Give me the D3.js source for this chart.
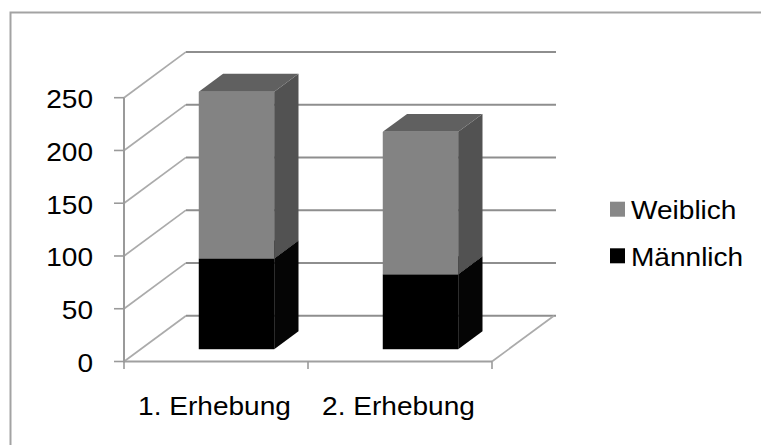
<!DOCTYPE html>
<html>
<head>
<meta charset="utf-8">
<script src="https://cdn.jsdelivr.net/npm/d3@7"></script>
<style>
  html, body { margin: 0; padding: 0; background: #fff; }
  svg { display: block; }
  text { font-family: "Liberation Sans", Arial, sans-serif; fill: #000; }
</style>
</head>
<body>
<svg id="chart" width="761" height="445"></svg>
<script>
// Survey participants by sex, two survey rounds
const categories = ["1. Erhebung", "2. Erhebung"];
const maennlich = [86, 71];
const weiblich = [158, 135];
const yTicks = [0, 50, 100, 150, 200, 250];
const seriesNames = ["Weiblich", "Männlich"];

const svg = d3.select("#chart");

// Front plane of the 3D plot box
const plotLeft = 124, plotRight = 492;
const y = d3.scaleLinear().domain([0, 250]).range([361.5, 97.7]);
const x = d3.scaleBand().domain(categories).range([plotLeft, plotRight]);

// Oblique depth of the box (full depth) and of the bars inside it
const depthX = 62, depthY = -45.8;
const barFront = 0.268, barBack = 0.66;
const barW = 0.41; // fraction of the band
const barOffset = 0.316;

const fontSize = 25.5, stretch = 1.1;
function label(g, txt, px, py, anchor) {
  return g.append("text")
    .attr("transform", `translate(${px},${py}) scale(${stretch},1)`)
    .attr("text-anchor", anchor)
    .style("font-size", fontSize + "px")
    .text(txt);
}

// Outer chart frame
svg.append("rect")
  .attr("x", 10.5).attr("y", 12.5)
  .attr("width", 800).attr("height", 500)
  .attr("fill", "none").attr("stroke", "#a3a3a3").attr("stroke-width", 2);

const walls = svg.append("g");

// Side-wall diagonals and back-wall gridlines
yTicks.forEach(v => {
  const fy = y(v);
  walls.append("line")
    .attr("x1", plotLeft).attr("y1", fy)
    .attr("x2", plotLeft + depthX).attr("y2", fy + depthY)
    .attr("stroke", "#ababab").attr("stroke-width", 1.7);
  walls.append("line")
    .attr("x1", plotLeft + depthX).attr("y1", fy + depthY)
    .attr("x2", plotRight + depthX + 2).attr("y2", fy + depthY)
    .attr("stroke", "#8e8e8e").attr("stroke-width", 2);
});

// Floor front edge and right diagonal
walls.append("line")
  .attr("x1", plotLeft).attr("y1", y(0))
  .attr("x2", plotRight).attr("y2", y(0))
  .attr("stroke", "#a0a0a0").attr("stroke-width", 2);
walls.append("line")
  .attr("x1", plotRight).attr("y1", y(0))
  .attr("x2", plotRight + depthX).attr("y2", y(0) + depthY)
  .attr("stroke", "#ababab").attr("stroke-width", 1.7);

// Value axis
walls.append("line")
  .attr("x1", plotLeft).attr("y1", y(250))
  .attr("x2", plotLeft).attr("y2", y(0) + 1)
  .attr("stroke", "#9a9a9a").attr("stroke-width", 2);
yTicks.forEach(v => {
  walls.append("line")
    .attr("x1", plotLeft - 10).attr("y1", y(v))
    .attr("x2", plotLeft).attr("y2", y(v))
    .attr("stroke", "#9a9a9a").attr("stroke-width", 1.6);
  label(walls, String(v), 93, y(v) + 10.5, "end");
});

// Category axis ticks and labels
[plotLeft, plotLeft + x.bandwidth(), plotRight].forEach(tx => {
  walls.append("line")
    .attr("x1", tx).attr("y1", y(0))
    .attr("x2", tx).attr("y2", y(0) + 7.5)
    .attr("stroke", "#9a9a9a").attr("stroke-width", 1.6);
});
categories.forEach(c => {
  label(walls, c, x(c) + x.bandwidth() / 2 - 1.5, 414.5, "middle");
});

// Stacked 3D columns
const stackData = categories.map((c, i) => ({ cat: c, Männlich: maennlich[i], Weiblich: weiblich[i] }));
const stack = d3.stack().keys(["Männlich", "Weiblich"])(stackData);
const shades = {
  "Männlich": { front: "#000000", side: "#050505", top: "#222222" },
  "Weiblich": { front: "#838383", side: "#525252", top: "#606060" }
};

const bars = svg.append("g");
const fdx = depthX * barFront, fdy = depthY * barFront;
const bdx = depthX * (barBack - barFront), bdy = depthY * (barBack - barFront);

stack.forEach(layer => {
  const col = shades[layer.key];
  layer.forEach(seg => {
    const c = seg.data.cat;
    const L = x(c) + x.bandwidth() * barOffset + fdx;
    const R = L + x.bandwidth() * barW;
    const yb = y(seg[0]) + fdy, yt = y(seg[1]) + fdy;
    // front face
    bars.append("rect")
      .attr("x", L).attr("y", yt)
      .attr("width", R - L).attr("height", yb - yt)
      .attr("fill", col.front);
    // right side face
    bars.append("path")
      .attr("d", `M${R},${yt}L${R + bdx},${yt + bdy}L${R + bdx},${yb + bdy}L${R},${yb}Z`)
      .attr("fill", col.side);
    // top face
    bars.append("path")
      .attr("d", `M${L},${yt}L${L + bdx},${yt + bdy}L${R + bdx},${yt + bdy}L${R},${yt}Z`)
      .attr("fill", col.top);
  });
});

// Legend
const legend = svg.append("g");
seriesNames.forEach((name, i) => {
  const ly = 201.7 + i * 46.6;
  legend.append("rect")
    .attr("x", 610).attr("y", ly)
    .attr("width", 15).attr("height", 15)
    .attr("fill", name === "Weiblich" ? "#888888" : "#000000");
  label(legend, name, 631, ly + 17.3, "start");
});
</script>
</body>
</html>
